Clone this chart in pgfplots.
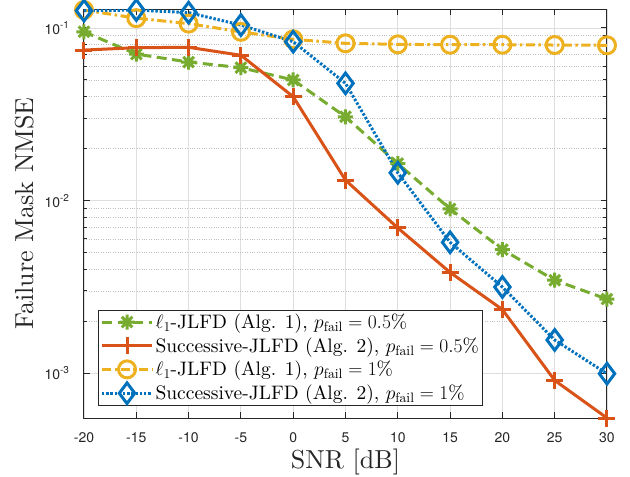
\RequirePackage{fix-cm}
\documentclass[border=0pt]{standalone}
\usepackage{fontspec}
\setmainfont{lmroman10-regular.otf}[ItalicFont=lmroman10-italic.otf, BoldFont=lmroman10-bold.otf]
\usepackage{pgfplots}
\pgfplotsset{compat=1.18}
\newfontfamily\heros{TeX Gyre Heros}
\definecolor{cg}{rgb}{0.466,0.674,0.188}
\definecolor{cr}{rgb}{0.85,0.325,0.098}
\definecolor{cy}{rgb}{0.929,0.694,0.125}
\definecolor{cb}{rgb}{0,0.447,0.741}
\pgfdeclareplotmark{mstar}{%
  \pgfpathmoveto{\pgfpoint{-\pgfplotmarksize}{0pt}}\pgfpathlineto{\pgfpoint{\pgfplotmarksize}{0pt}}%
  \pgfpathmoveto{\pgfpoint{0pt}{-\pgfplotmarksize}}\pgfpathlineto{\pgfpoint{0pt}{\pgfplotmarksize}}%
  \pgfpathmoveto{\pgfpoint{-.7071\pgfplotmarksize}{-.7071\pgfplotmarksize}}\pgfpathlineto{\pgfpoint{.7071\pgfplotmarksize}{.7071\pgfplotmarksize}}%
  \pgfpathmoveto{\pgfpoint{-.7071\pgfplotmarksize}{.7071\pgfplotmarksize}}\pgfpathlineto{\pgfpoint{.7071\pgfplotmarksize}{-.7071\pgfplotmarksize}}%
  \pgfusepathqstroke}
\newcommand{\tk}{\heros\fontsize{14}{16}\selectfont}
\newcommand{\sexp}[1]{10\raisebox{0.42em}{\fontsize{10}{10}\selectfont #1}}
\begin{document}
\begin{tikzpicture}
\path[use as bounding box] (-84pt,-59pt) rectangle (546pt,418pt);
\begin{axis}[
  scale only axis, width=523pt, height=409pt,
  at={(0pt,0pt)}, anchor=south west,
  xmin=-20, xmax=30, ymode=log, ymin=5.51e-4, ymax=0.1288,
  xtick={-20,-15,...,30},
  xticklabels={-20,-15,-10,-5,0,5,10,15,20,25,30},
  ytick={1e-3,1e-2,1e-1},
  yticklabels={\sexp{-3},\sexp{-2},\sexp{-1}},
  ticklabel style={font=\tk, color=black!85},
  xticklabel style={yshift=-11pt},
  yticklabel style={xshift=-11.5pt},
  xmajorgrids, ymajorgrids, yminorgrids,
  major grid style={color=black!13, line width=0.8pt},
  minor grid style={color=black!25, dotted, line width=0.8pt},
  axis line style={color=black!85, line width=1pt},
  tick style={color=black!85, line width=1pt},
  major tick length=6pt, minor tick length=3.5pt,
  xlabel={SNR [dB]}, ylabel={Failure Mask NMSE},
  label style={font=\fontsize{26}{30}\selectfont, color=black!85},
  xlabel style={at={(axis description cs:0.5,-0.076)}, anchor=north, inner sep=0pt},
  ylabel style={at={(axis description cs:-0.0956,0.5)}, anchor=south, inner sep=0pt},
  legend style={at={(axis description cs:0.0268,0.0293)}, anchor=south west,
    font=\fontsize{19.5}{25}\selectfont, draw=black!85, line width=1pt, fill=white,
    inner xsep=2pt, inner ysep=2pt, row sep=3.5pt},
  legend cell align=left,
  legend image code/.code={\draw[mark repeat=2,mark phase=2] plot coordinates {(0pt,0pt) (25pt,0pt) (50pt,0pt)};},
  every axis plot/.append style={line width=3pt},
]
\addplot[color=cg, dash pattern=on 10pt off 5.5pt, mark=mstar, mark size=7.5pt, mark options={solid}]
coordinates {(-20,0.095) (-15,0.0706) (-10,0.0635) (-5,0.0589) (0,0.050) (5,0.0306) (10,0.0164) (15,0.00896) (20,0.00521) (25,0.00346) (30,0.00269)};
\addlegendentry{$\ell_1$-JLFD (Alg. 1), $p_{\mathrm{fail}}=0.5\%$}
\addplot[color=cr, solid, mark=+, mark size=8.5pt, mark options={solid}]
coordinates {(-20,0.0745) (-15,0.0769) (-10,0.0773) (-5,0.0695) (0,0.040) (5,0.01315) (10,0.00695) (15,0.00384) (20,0.00234) (25,0.00091) (30,0.000551)};
\addlegendentry{Successive-JLFD (Alg. 2), $p_{\mathrm{fail}}=0.5\%$}
\addplot[color=cy, dash pattern=on 9pt off 3.5pt on 2.5pt off 3.5pt, mark=o, mark size=8.5pt, mark options={solid}]
coordinates {(-20,0.127) (-15,0.114) (-10,0.106) (-5,0.095) (0,0.086) (5,0.0815) (10,0.0804) (15,0.080) (20,0.080) (25,0.0797) (30,0.0794)};
\addlegendentry{$\ell_1$-JLFD (Alg. 1), $p_{\mathrm{fail}}=1\%$}
\addplot[color=cb, dash pattern=on 2.4pt off 1.8pt, mark=diamond, mark size=10.3pt, mark options={solid}]
coordinates {(-20,0.126) (-15,0.127) (-10,0.1227) (-5,0.104) (0,0.0833) (5,0.0478) (10,0.0145) (15,0.00574) (20,0.00316) (25,0.00156) (30,0.000995)};
\addlegendentry{Successive-JLFD (Alg. 2), $p_{\mathrm{fail}}=1\%$}
\end{axis}
\end{tikzpicture}
\end{document}
